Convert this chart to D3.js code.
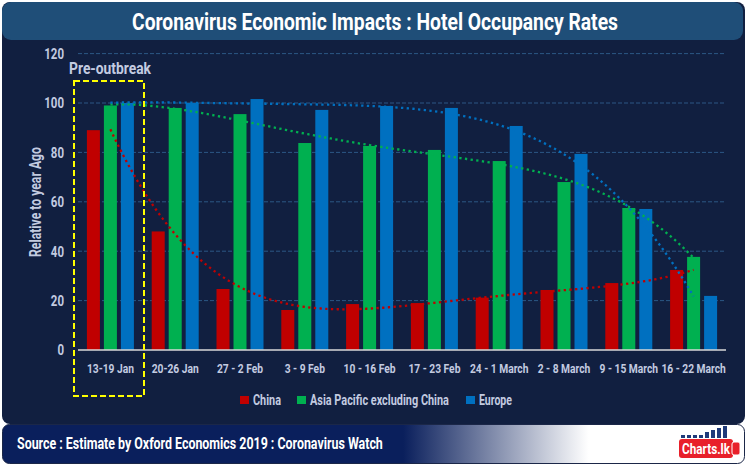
<!DOCTYPE html>
<html><head><meta charset="utf-8">
<script src="https://cdn.jsdelivr.net/npm/d3@7/dist/d3.min.js"></script>
<style>
html,body{margin:0;padding:0;background:#fff;}
svg{display:block;}
text{font-family:Roboto,"Noto Sans","DejaVu Sans",sans-serif;font-weight:bold;}
</style></head>
<body>
<svg id="c" width="747" height="467"></svg>
<script>
const categories = ["13-19 Jan","20-26 Jan","27 - 2 Feb","3 - 9 Feb","10 - 16 Feb","17 - 23 Feb","24 - 1 March","2 - 8 March","9 - 15 March","16 - 22 March"];
const seriesNames = ["China","Asia Pacific excluding China","Europe"];
const china  = [89, 48, 24.7, 16.2, 18.6, 19.0, 21.2, 24.3, 27.1, 32.4];
const asiaPac = [99, 98, 95.5, 83.8, 82.6, 81.0, 76.5, 68.0, 57.5, 37.7];
const europe = [100, 100, 101.6, 97.2, 98.8, 98.0, 90.7, 79.4, 57.1, 21.9];
const yTicks = [0, 20, 40, 60, 80, 100, 120];
const colors = ["#c00000", "#00b050", "#0070c0"];
const trendOrder = 4;

const values = [china, asiaPac, europe];
const svg = d3.select("#c");
const LBL = "#c3cbe0";

// text helper: condensed text anchored at (x,y), squeezed to a target width
function ctext(parent, x, y, str, size, fill, anchor, targetW, rotate){
  const g = parent.append("g").attr("transform", `translate(${x},${y})` + (rotate?` rotate(${rotate})`:""));
  const t = g.append("text").attr("font-size", size).attr("fill", fill).attr("text-anchor", anchor || "start").text(str);
  const w = t.node().getComputedTextLength();
  const s = targetW ? targetW / w : 0.78;
  t.attr("transform", `scale(${s},1)`);
  return t;
}

// background panels
svg.append("rect").attr("x",2).attr("y",2).attr("width",743).attr("height",422).attr("rx",8).attr("fill","#111f40");
svg.append("rect").attr("x",2).attr("y",2).attr("width",741).attr("height",38).attr("rx",9).attr("fill","#1f4e78");
ctext(svg, 375, 30, "Coronavirus Economic Impacts : Hotel Occupancy Rates", 23, "#ffffff", "middle", 486);

// scales
const x0 = d3.scaleBand().domain(categories).range([78, 726]);
const groupW = 47;
const x1 = d3.scaleBand().domain(seriesNames).range([0, groupW]).paddingInner(0.235);
const y = d3.scaleLinear().domain([0, 120]).range([350, 53.6]);

// grid
svg.append("g").selectAll("line").data(yTicks.filter(d=>d>0)).join("line")
  .attr("x1",78).attr("x2",726).attr("y1",d=>y(d)).attr("y2",d=>y(d))
  .attr("stroke","#2c5784").attr("stroke-width",1).attr("stroke-dasharray","4 2");

// y axis labels
const yAxis = d3.axisLeft(y).tickValues(yTicks).tickSize(0).tickPadding(0);
const ga = svg.append("g").attr("transform","translate(64,0)").call(yAxis);
ga.select(".domain").remove();
ga.selectAll("text").attr("fill",LBL).attr("font-size",15.5).attr("transform","scale(0.74,1)")
  .style("font-family",'Roboto,"Noto Sans",sans-serif').style("font-weight","bold");

ctext(svg, 41, 202, "Relative to year Ago", 17, LBL, "middle", 110, -90);

// bars
const groups = svg.append("g").selectAll("g").data(categories).join("g")
  .attr("transform", c => `translate(${x0(c) + (x0.bandwidth()-groupW)/2},0)`);
groups.selectAll("rect").data((c,i) => seriesNames.map((s,k)=>({s, k, v: values[k][i]}))).join("rect")
  .attr("x", d=>x1(d.s)).attr("width", x1.bandwidth())
  .attr("y", d=>y(d.v)).attr("height", d=>y(0)-y(d.v))
  .attr("fill", d=>colors[d.k]);

// baseline
svg.append("line").attr("x1",78).attr("x2",726).attr("y1",y(0)).attr("y2",y(0)).attr("stroke","#d9d9d9").attr("stroke-width",1.3);

// x axis labels
const xAxis = d3.axisBottom(x0).tickSize(0).tickPadding(0);
const gx = svg.append("g").attr("transform",`translate(0,${y(0)+13})`).call(xAxis);
gx.select(".domain").remove();
gx.selectAll("text").attr("fill",LBL).attr("font-size",13.5).attr("dy","0.71em").attr("transform","scale(0.76,1)")
  .style("font-family",'Roboto,"Noto Sans",sans-serif').style("font-weight","bold");

// polynomial trendlines (least squares fit of the bar values)
function polyfit(ys, order){
  const n = order+1;
  const A = Array.from({length:n},()=>new Array(n).fill(0));
  const b = new Array(n).fill(0);
  ys.forEach((yv,i)=>{
    const xv = i+1;
    for(let r=0;r<n;r++){
      b[r] += yv*Math.pow(xv,r);
      for(let c=0;c<n;c++) A[r][c] += Math.pow(xv,r+c);
    }
  });
  for(let i=0;i<n;i++){
    let m=i; for(let r=i+1;r<n;r++) if(Math.abs(A[r][i])>Math.abs(A[m][i])) m=r;
    [A[i],A[m]]=[A[m],A[i]]; [b[i],b[m]]=[b[m],b[i]];
    for(let r=i+1;r<n;r++){ const f=A[r][i]/A[i][i]; for(let c=i;c<n;c++) A[r][c]-=f*A[i][c]; b[r]-=f*b[i]; }
  }
  const coef=new Array(n).fill(0);
  for(let i=n-1;i>=0;i--){ let s=b[i]; for(let c=i+1;c<n;c++) s-=A[i][c]*coef[c]; coef[i]=s/A[i][i]; }
  return xv => coef.reduce((acc,cf,k)=>acc+cf*Math.pow(xv,k),0);
}
const xc = i => x0(categories[0]) + x0.step()*i + x0.bandwidth()/2;
const line = d3.line().x(d=>d[0]).y(d=>d[1]);
values.forEach((vals,k)=>{
  const f = polyfit(vals, trendOrder);
  const pts = d3.range(0, categories.length-1+0.001, 0.05).map(t=>[xc(t), y(f(t+1))]);
  svg.append("path").attr("d", line(pts)).attr("fill","none").attr("stroke",colors[k])
    .attr("stroke-width",2.3).attr("stroke-dasharray","2.3 3.4");
});

// pre-outbreak box
svg.append("rect").attr("x",74).attr("y",81).attr("width",70).attr("height",315)
  .attr("fill","none").attr("stroke","#ffff00").attr("stroke-width",2).attr("stroke-dasharray","6 3");
ctext(svg, 110, 74, "Pre-outbreak", 16, LBL, "middle", 82);

// legend
const legendX = [240, 297, 466];
const legendW = [28, 139, 33];
seriesNames.forEach((s,i)=>{
  svg.append("rect").attr("x",legendX[i]).attr("y",396).attr("width",9).attr("height",8).attr("fill",colors[i]);
  ctext(svg, legendX[i]+13, 405, s, 14, LBL, "start", legendW[i]);
});

// footer
const defs = svg.append("defs");
const grad = defs.append("linearGradient").attr("id","fg").attr("x1","0").attr("x2","1").attr("y1","0").attr("y2","0");
grad.append("stop").attr("offset","0").attr("stop-color","#0a1f5c");
grad.append("stop").attr("offset","0.54").attr("stop-color","#0a1f5c");
grad.append("stop").attr("offset","0.79").attr("stop-color","#ffffff");
grad.append("stop").attr("offset","1").attr("stop-color","#ffffff");
svg.append("rect").attr("x",2.5).attr("y",424.5).attr("width",742).attr("height",39).attr("rx",7)
  .attr("fill","url(#fg)").attr("stroke","#1b2748").attr("stroke-width",1);
ctext(svg, 17, 449, "Source : Estimate by Oxford Economics 2019 :  Coronavirus Watch", 17, "#ffffff", "start", 366);

// logo
const logo = svg.append("g").attr("transform","translate(679,428)");
const barH = [3,3,3,3,6,8,10,12];
barH.forEach((h,i)=>logo.append("rect").attr("x",2+i*6).attr("y",10-h).attr("width",4).attr("height",h).attr("fill","#1f3a7a"));
logo.append("rect").attr("x",0).attr("y",11).attr("width",54).attr("height",19).attr("rx",3).attr("fill","#e8202a");
ctext(logo, 3, 26, "Charts.lk", 15, "#ffffff", "start", 48);
logo.append("rect").attr("x",53).attr("y",14).attr("width",8).attr("height",13).attr("rx",2).attr("fill","#e8202a").attr("stroke","#fff").attr("stroke-width",1);
</script>
</body></html>
